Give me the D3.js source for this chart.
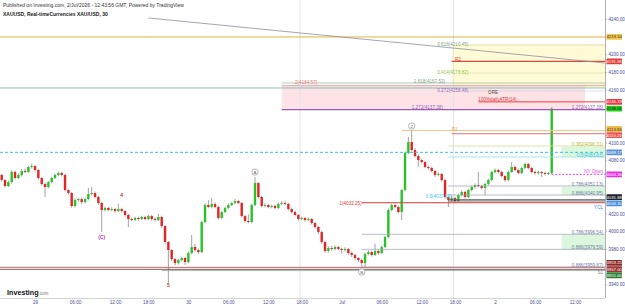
<!DOCTYPE html>
<html><head><meta charset="utf-8">
<script src="https://cdn.jsdelivr.net/npm/d3@7/dist/d3.min.js"></script>
<style>html,body{margin:0;padding:0;background:#fff;overflow:hidden}svg{display:block;font-family:"Liberation Sans",Arial,sans-serif}</style>
</head><body>
<svg id="chart" width="625" height="307"></svg>
<script>
// ---------------- DATA ----------------
const headerLine1 = "Published on Investing.com, 2/Jul/2026 - 12:43:56 GMT, Powered by TradingView";
const headerLine2 = "XAUUSD, Real-timeCurrencies XAU/USD, 30";
const firstBarTime = "2026-06-28T19:00";   // 30-minute bars, daily break 17:00-18:00

const opens = [4063.6,4057.9,4051.1,4055.6,4067.0,4060.2,4063.6,4068.1,4067.0,4072.6,
 4073.7,4069.2,4060.2,4053.4,4050.0,4055.6,4060.2,4063.6,4065.8,4063.6,
 4046.6,4043.2,4028.5,4035.3,4036.4,4033.0,4036.4,4042.1,4043.2,4038.7,
 4031.9,4024.0,4026.3,4024.0,4025.1,4022.9,4025.1,4022.9,4018.4,4013.8,
 4012.7,4015.0,4013.8,4016.1,4013.8,4017.2,4013.8,4012.7,4016.1,4005.9,
 3987.9,3978.8,3968.6,3964.1,3967.5,3969.8,3965.2,3975.4,3982.2,3978.8,
 3976.5,4010.4,4029.6,4027.4,4030.8,4027.4,4015.0,4021.7,4026.3,4029.6,
 4031.9,4034.2,4031.9,4017.2,4011.6,4010.4,4029.6,4054.5,4038.7,4028.5,
 4029.6,4027.4,4028.5,4026.3,4030.8,4031.9,4030.8,4025.1,4021.7,4018.4,
 4013.8,4015.0,4012.7,4013.8,4009.3,4004.8,3999.1,3987.9,3977.7,3981.1,
 3980.0,3982.2,3980.0,3978.8,3980.0,3975.4,3973.2,3969.8,3967.5,3964.1,
 3974.3,3976.5,3973.2,3977.7,3975.4,3982.2,3993.5,4024.0,4029.6,4027.4,
 4021.7,4046.6,4088.4,4100.9,4091.8,4085.0,4080.5,4078.2,4072.6,4071.5,
 4068.1,4063.6,4064.7,4057.9,4038.7,4035.3,4037.6,4034.2,4040.9,4044.3,
 4038.7,4046.6,4050.0,4052.3,4051.1,4048.9,4053.4,4057.9,4067.0,4069.2,
 4067.0,4062.4,4057.9,4067.0,4072.6,4069.2,4065.8,4071.5,4076.0,4071.5,
 4067.0,4065.8,4067.0,4065.8,4064.7,4065.8];
const highs = [4065.0,4059.0,4057.0,4069.0,4068.5,4065.5,4070.5,4071.0,4074.0,4076.5,
 4075.0,4070.5,4061.5,4055.0,4057.0,4061.5,4065.0,4067.5,4067.0,4065.0,
 4048.0,4044.5,4037.0,4038.0,4038.0,4038.0,4049.0,4050.0,4045.0,4040.0,
 4033.0,4028.0,4027.5,4027.0,4026.5,4031.0,4026.5,4024.0,4019.5,4015.5,
 4016.5,4016.5,4017.5,4017.5,4019.0,4018.5,4015.5,4019.5,4017.5,4007.0,
 3989.0,3980.0,3970.0,3969.0,3971.5,3971.0,3977.0,3995.8,3986.0,3980.5,
 4012.0,4031.5,4035.3,4037.6,4032.5,4029.0,4023.0,4028.0,4031.5,4033.5,
 4036.4,4035.5,4033.0,4018.5,4019.0,4031.0,4061.3,4055.5,4040.0,4031.5,
 4031.0,4030.0,4030.0,4032.5,4034.0,4034.5,4032.0,4026.5,4023.0,4019.5,
 4016.5,4016.0,4015.5,4015.0,4010.5,4006.0,4000.5,3989.0,3983.0,3983.5,
 3984.0,3983.5,3981.5,3982.0,3981.0,3977.0,3974.5,3971.0,3969.0,3976.0,
 3978.5,3978.0,3986.0,3979.0,3984.0,3995.0,4026.0,4031.5,4031.0,4029.0,
 4048.0,4090.0,4106.5,4114.4,4094.0,4087.0,4082.0,4079.5,4074.0,4073.0,
 4069.5,4066.5,4066.0,4059.0,4040.0,4040.0,4039.0,4042.5,4046.0,4045.5,
 4048.0,4051.5,4054.0,4067.0,4052.5,4055.0,4059.5,4068.5,4071.0,4070.5,
 4068.5,4063.5,4068.5,4078.2,4074.0,4070.5,4073.0,4077.5,4077.0,4072.5,
 4068.5,4068.5,4068.0,4067.0,4067.0,4140.0];
const lows = [4056.0,4049.5,4049.8,4054.0,4058.5,4059.0,4062.0,4065.5,4066.0,4071.0,
 4067.5,4058.5,4051.5,4038.7,4048.5,4054.0,4059.0,4062.0,4062.0,4045.0,
 4041.5,4026.5,4027.0,4033.5,4031.0,4031.5,4035.0,4040.5,4037.0,4030.0,
 3999.1,4022.5,4022.5,4022.5,4021.0,4021.5,4021.0,4016.5,4004.8,4011.0,
 4011.5,4012.0,4012.5,4012.5,4012.5,4012.0,4011.0,4011.5,4004.0,3986.0,
 3941.5,3966.0,3961.5,3962.5,3966.0,3962.0,3964.0,3974.0,3977.0,3974.5,
 3975.0,4009.0,4026.0,4026.0,4026.0,4013.0,4013.5,4020.5,4025.0,4028.5,
 4030.5,4030.5,4015.5,4010.0,4009.0,4009.0,4028.5,4037.0,4027.0,4027.0,
 4026.0,4026.0,4025.0,4025.0,4029.5,4029.5,4023.5,4020.0,4017.0,4012.0,
 4012.5,4011.0,4011.5,4007.5,4003.0,3997.0,3986.0,3975.5,3976.0,3978.0,
 3978.5,3978.5,3975.0,3977.0,3973.5,3971.0,3967.5,3965.5,3960.0,3958.5,
 3973.0,3971.5,3972.0,3973.5,3974.0,3981.0,3992.0,4022.5,4026.0,4020.0,
 4012.7,4045.0,4087.0,4090.0,4083.5,4073.0,4076.5,4071.0,4069.5,4066.5,
 4061.5,4062.0,4056.0,4037.0,4027.4,4033.5,4032.5,4033.0,4039.5,4037.0,
 4037.5,4045.0,4048.5,4049.5,4047.0,4040.9,4052.0,4056.5,4065.5,4065.5,
 4061.0,4056.0,4056.5,4066.0,4068.0,4064.5,4064.5,4070.0,4070.0,4065.5,
 4064.0,4064.0,4061.3,4063.0,4063.5,4064.5];
const closes = [4057.9,4051.1,4055.6,4067.0,4060.2,4063.6,4068.1,4067.0,4072.6,4073.7,
 4069.2,4060.2,4053.4,4050.0,4055.6,4060.2,4063.6,4065.8,4063.6,4046.6,
 4043.2,4028.5,4035.3,4036.4,4033.0,4036.4,4042.1,4043.2,4038.7,4031.9,
 4024.0,4026.3,4024.0,4025.1,4022.9,4025.1,4022.9,4018.4,4013.8,4012.7,
 4015.0,4013.8,4016.1,4013.8,4017.2,4013.8,4012.7,4016.1,4005.9,3987.9,
 3978.8,3968.6,3964.1,3967.5,3969.8,3965.2,3975.4,3982.2,3978.8,3976.5,
 4010.4,4029.6,4027.4,4030.8,4027.4,4015.0,4021.7,4026.3,4029.6,4031.9,
 4034.2,4031.9,4017.2,4011.6,4010.4,4029.6,4054.5,4038.7,4028.5,4029.6,
 4027.4,4028.5,4026.3,4030.8,4031.9,4030.8,4025.1,4021.7,4018.4,4013.8,
 4015.0,4012.7,4013.8,4009.3,4004.8,3999.1,3987.9,3977.7,3981.1,3980.0,
 3982.2,3980.0,3978.8,3980.0,3975.4,3973.2,3969.8,3967.5,3964.1,3974.3,
 3976.5,3973.2,3977.7,3975.4,3982.2,3993.5,4024.0,4029.6,4027.4,4021.7,
 4046.6,4088.4,4100.9,4091.8,4085.0,4080.5,4078.2,4072.6,4071.5,4068.1,
 4063.6,4064.7,4057.9,4038.7,4035.3,4037.6,4034.2,4040.9,4044.3,4038.7,
 4046.6,4050.0,4052.3,4051.1,4048.9,4053.4,4057.9,4067.0,4069.2,4067.0,
 4062.4,4057.9,4067.0,4072.6,4069.2,4065.8,4071.5,4076.0,4071.5,4067.0,
 4065.8,4067.0,4065.8,4064.7,4065.8,4138.61];

const priceTicks = [3940,3960,3980,4000,4020,4040,4060,4080,4100,4120,4140,4160,4180,4200,4220,4240];
const timeTickTimes = ["2026-06-29T00:00","2026-06-29T06:00","2026-06-29T12:00","2026-06-29T18:00",
 "2026-06-30T00:00","2026-06-30T06:00","2026-06-30T12:00","2026-06-30T18:00",
 "2026-07-01T00:00","2026-07-01T06:00","2026-07-01T12:00","2026-07-01T18:00",
 "2026-07-02T00:00","2026-07-02T06:00","2026-07-02T12:00"];
const timeTickLabels = ["29","06:00","12:00","18:00","30","06:00","12:00","18:00","Jul","06:00","12:00","18:00","2","06:00","12:00"];

// horizontal levels (null start = from left edge)
const levelKeys   = ["gold","teal","cyanDash","brown1","brown2","grayS1","fib618","R2","fib414","ext1618","ext2","fib272","atr","ext1272","R1y","R1r","fib382","fib50","nyOpen","fib786a","fib886a","pivotD","ycl","ext1","fib786b","fib886b","fib886c"];
const levelPrices = [4219.54,4161.90,4089.17,3959.25,3957.00,3955.60,4210.45,4191.86,4178.82,4167.52,4164.57,4158.48,4146.19,4137.38,4113.86,4110.20,4096.31,4083.93,4064.30,4051.13,4040.95,4035.88,4034.30,4032.25,3996.54,3979.59,3959.87];
const levelStarts = [null,null,null,null,null,"2026-06-29T20:00","2026-07-01T20:00","2026-07-01T16:30","2026-07-01T20:00","2026-06-30T14:00","2026-06-30T14:00","2026-07-01T20:00","2026-07-01T21:30","2026-06-30T14:00","2026-07-01T09:00","2026-07-01T16:30","2026-07-01T16:00","2026-07-01T16:00","2026-07-02T08:30","2026-07-01T16:00","2026-07-01T16:00","2026-07-01T16:00","2026-07-01T16:00","2026-07-01T03:00","2026-07-01T03:00","2026-07-01T03:00","2026-07-01T03:00"];

// price-axis tags: which levels carry a tag (+ last price)
const tagKeys = ["gold","R2","atr","last","R1y","R1r","cyanDash","nyOpen","pivotD","ycl","brown1","brown2","grayS1"];

// shaded zones
const zoneKeys   = ["fibYellow","extPink","g1","g2","g3"];
const zoneTop    = [4211.6,4164.1,4095.2,4050.0,3995.8];
const zoneBottom = [4161.9,4137.0,4083.9,4040.95,3978.8];
const zoneStart  = ["2026-07-01T16:30","2026-06-30T14:00","2026-07-02T10:00","2026-07-02T10:00","2026-07-02T10:00"];
const zoneEnd    = [null,"2026-07-02T13:30",null,null,null];

// trend line
const trendTimes  = ["2026-06-29T18:00","2026-07-02T16:30"];
const trendPrices = [4241.0,4190.1];

// session separators
const vLineTimes = ["2026-06-30T18:00","2026-07-01T18:00"];

// drawing labels (null time = right edge)
const annTexts  = ["0.618(4210.45)","R2","0.414(4178.82)","1.618(4167.52)","2(4164.57)","0.272(4158.48)","DRE","100%dailyATR(14)","1.272(4137.38)","1.272(4137.38)","R1","0.382(4096.31)","0.5(4083.93)","NY Open","0.786(4051.13)","0.886(4040.95)","0.5(4037.03)","YCL","1(4032.25)","0.786(3996.54)","0.886(3979.59)","0.886(3959.87)","S1"];
const annTimes  = ["2026-07-01T20:00","2026-07-01T18:00","2026-07-01T20:00","2026-07-01T15:30","2026-06-30T16:00","2026-07-01T20:00","2026-07-01T23:00","2026-07-01T21:30","2026-07-01T10:30",null,"2026-07-01T16:30",null,null,null,null,null,"2026-07-01T16:30",null,"2026-07-01T03:00",null,null,null,null];
const annPrices = [4211.6,4194.6,4179.9,4169.8,4168.6,4159.6,4157.3,4149.4,4140.4,4140.4,4115.5,4098.6,4086.2,4068.1,4053.4,4043.2,4039.8,4027.4,4031.9,3999.1,3982.2,3961.3,3954.0];
const annStyle  = ["fibG","red","fibL","fibG","pink","purple","dark","red","purple","purple","orange","olive","cyan","magenta","slate","slate","cyan","blue","red","slate","slate","slate","gray"];
const annEndAnchor = [true,false,true,true,false,true,false,false,false,true,false,true,true,true,true,true,true,true,true,true,true,true,true];

// wave labels
const waveTexts  = ["4","5","(C)","A","B","2"];
const waveTimes  = ["2026-06-29T13:00","2026-06-29T21:00","2026-06-29T10:00","2026-06-30T10:00","2026-07-01T03:00","2026-07-01T10:30"];
const wavePrices = [4040.9,3939.2,3993.5,4066.9,3953.9,4118.9];
const waveKinds  = ["red","red","magenta","circle","circle","circle"];

// ---------------- STYLES ----------------
const levelStyle = {
 gold:{c:"#e2b53c",w:1}, teal:{c:"#5fb8a6",w:0.8}, cyanDash:{c:"#3cc6de",w:1,d:"3,2"},
 brown1:{c:"#b26a6a",w:1}, brown2:{c:"#7d4545",w:0.9}, grayS1:{c:"#93a893",w:0.8},
 fib618:{c:"#a3aaa3",w:0.7,d:"1,1"}, R2:{c:"#e2463f",w:1.2}, fib414:{c:"#9ccc65",w:0.7,d:"1,1"},
 ext1618:{c:"#9fc0a2",w:0.8}, ext2:{c:"#e38d95",w:0.8}, fib272:{c:"#b9a2dc",w:0.7,d:"1,1"},
 atr:{c:"#f23645",w:1}, ext1272:{c:"#9b59b6",w:1.3}, R1y:{c:"#f2c58a",w:1}, R1r:{c:"#e57373",w:1},
 fib382:{c:"#d9dc95",w:0.8}, fib50:{c:"#92e1ec",w:0.8}, nyOpen:{c:"#e040e0",w:1,d:"2,1.5"},
 fib786a:{c:"#a4a9b6",w:0.8}, fib886a:{c:"#a4a9b6",w:0.8}, pivotD:{c:"#666",w:0.8}, ycl:{c:"#333",w:0.8},
 ext1:{c:"#e53935",w:1}, fib786b:{c:"#a4a9b6",w:0.8}, fib886b:{c:"#a4a9b6",w:0.8}, fib886c:{c:"#a0a0a0",w:0.7,d:"1,1"}
};
const tagStyle = {
 gold:{bg:"#f2c54b",fg:"#333"}, R2:{bg:"#e53935",fg:"#fff"}, atr:{bg:"#f23645",fg:"#fff"},
 last:{bg:"#22d022",fg:"#111"}, R1y:{bg:"#f5b94a",fg:"#333"}, R1r:{bg:"#ef5350",fg:"#fff"},
 cyanDash:{bg:"#5b93d6",fg:"#fff"}, nyOpen:{bg:"#e62ee6",fg:"#fff"}, pivotD:{bg:"#1e222d",fg:"#fff"},
 ycl:{bg:"#4a90d9",fg:"#fff"}, brown1:{bg:"#8e2a2a",fg:"#fff"}, brown2:{bg:"#9b3434",fg:"#fff"}, grayS1:{bg:"#2e7d32",fg:"#fff"}
};
const zoneFill = {fibYellow:"#fffbd6", extPink:"#fde3e5", g1:"#dbf7dd", g2:"#dbf7dd", g3:"#dbf7dd"};
const annColor = {fibG:"#7e9f88", red:"#e53935", fibL:"#8bc34a", pink:"#e57373", purple:"#8e63c4", dark:"#555",
 orange:"#f0a030", olive:"#b7bb3a", cyan:"#3cc6de", magenta:"#e040e0", slate:"#6f7aa8", blue:"#4a7fd0", gray:"#888"};

// ---------------- CHART ----------------
const W=625,H=307, plotR=605, plotB=298;
const svg=d3.select("#chart");
svg.append("rect").attr("width",W).attr("height",H).attr("fill","#fff");

const STEP=30*60000;
const barTimes=[];
{let t=Date.parse(firstBarTime+":00Z");
 for(let i=0;i<220;i++){barTimes.push(t); t+=STEP; const d=new Date(t); if(d.getUTCHours()===17&&d.getUTCMinutes()===0) t+=2*STEP;}}
const barOf = s => barTimes.indexOf(Date.parse(s+":00Z"));

const n=closes.length;
const x=d3.scaleLinear().domain([0,n-1]).range([1.7,551.7]);
const y=d3.scaleLinear().domain([3924.6,4261.3]).range([plotB,0]);
const step = x(1)-x(0);
const xStart = s => s===null ? 0 : x(barOf(s));
const xEnd = s => s===null ? plotR : x(barOf(s));

svg.append("clipPath").attr("id","plot").append("rect").attr("x",0).attr("y",0).attr("width",plotR).attr("height",plotB);
const g=svg.append("g").attr("clip-path","url(#plot)");

// zones
zoneKeys.forEach((k,i)=>{
  g.append("rect").attr("x",xStart(zoneStart[i])).attr("y",y(zoneTop[i]))
   .attr("width",xEnd(zoneEnd[i])-xStart(zoneStart[i])).attr("height",y(zoneBottom[i])-y(zoneTop[i]))
   .attr("fill",zoneFill[k]);
});
// session lines
vLineTimes.forEach(s=>{
  const xx=x(barOf(s))-step/2;
  g.append("line").attr("x1",xx).attr("x2",xx).attr("y1",0).attr("y2",plotB).attr("stroke","#dde3ea").attr("stroke-width",1);
});

// candles
const cg=g.append("g");
d3.range(n).forEach(i=>{
  const up=closes[i]>=opens[i];
  const col=up?"#26c426":"#e32424";
  const cx=x(i);
  cg.append("line").attr("x1",cx).attr("x2",cx).attr("y1",y(highs[i])).attr("y2",y(lows[i])).attr("stroke","#8c8c8c").attr("stroke-width",0.8);
  const top=y(Math.max(opens[i],closes[i])), bot=y(Math.min(opens[i],closes[i]));
  cg.append("rect").attr("x",cx-1.2).attr("width",2.4).attr("y",top).attr("height",Math.max(0.8,bot-top)).attr("fill",col);
});

// levels
levelKeys.forEach((k,i)=>{
  const st=levelStyle[k];
  g.append("line").attr("x1",xStart(levelStarts[i])).attr("x2",plotR)
   .attr("y1",y(levelPrices[i])).attr("y2",y(levelPrices[i]))
   .attr("stroke",st.c).attr("stroke-width",st.w).attr("stroke-dasharray",st.d||null);
});
// trend line
g.append("line").attr("x1",x(barOf(trendTimes[0]))).attr("y1",y(trendPrices[0]))
 .attr("x2",x(barOf(trendTimes[1]))).attr("y2",y(trendPrices[1]))
 .attr("stroke","#8d8fa0").attr("stroke-width",0.8);

// annotations
annTexts.forEach((t,i)=>{
  const ax = annTimes[i]===null ? 603 : x(barOf(annTimes[i]));
  g.append("text").attr("x",ax).attr("y",y(annPrices[i])).attr("dy","0.35em")
   .attr("text-anchor", annEndAnchor[i] ? "end":"start")
   .attr("font-size",4.6).attr("fill",annColor[annStyle[i]]).text(t);
});

// wave labels
waveTexts.forEach((t,i)=>{
  const wx=x(barOf(waveTimes[i])), wy=y(wavePrices[i]);
  if(waveKinds[i]==="circle"){
    g.append("circle").attr("cx",wx).attr("cy",wy).attr("r",3.2).attr("fill","#fff").attr("stroke","#8a8a8a").attr("stroke-width",0.6);
    g.append("text").attr("x",wx).attr("y",wy).attr("dy","0.35em").attr("text-anchor","middle").attr("font-size",4.4).attr("fill","#666").text(t);
  } else {
    g.append("text").attr("x",wx).attr("y",wy).attr("dy","0.35em").attr("text-anchor","middle")
     .attr("font-size",5).attr("font-weight","bold").attr("fill",waveKinds[i]==="red"?"#d32f2f":"#c030c0").text(t);
  }
});

// axes lines
svg.append("line").attr("x1",plotR+0.5).attr("x2",plotR+0.5).attr("y1",0).attr("y2",plotB).attr("stroke","#9a9a9a").attr("stroke-width",0.8);
svg.append("line").attr("x1",0).attr("x2",plotR).attr("y1",plotB+0.5).attr("y2",plotB+0.5).attr("stroke","#c8c8c8").attr("stroke-width",0.8);

// tags positions with collision relaxation
const tags = tagKeys.map(k=>{
  const price = k==="last" ? closes[n-1] : levelPrices[levelKeys.indexOf(k)];
  return {k, price, y:y(price)};
}).sort((a,b)=>a.y-b.y);
const tagH=6.2;
for(let it=0;it<80;it++){
  for(let i=1;i<tags.length;i++){
    const ov=tagH-(tags[i].y-tags[i-1].y);
    if(ov>0){tags[i].y+=ov/2; tags[i-1].y-=ov/2;}
  }
}

// right price axis
const yAxis=d3.axisRight(y).tickValues(priceTicks).tickFormat(d3.format(".2f")).tickSize(2).tickPadding(1.5).tickSizeOuter(0);
const ya=svg.append("g").attr("transform",`translate(${plotR},0)`).call(yAxis);
ya.select(".domain").remove();
ya.selectAll(".tick line").attr("stroke","#9a9a9a").attr("stroke-width",0.6);
ya.selectAll(".tick text").attr("font-size",4.5).attr("fill","#4a4e96").attr("font-family","Liberation Sans, Arial, sans-serif");
ya.selectAll(".tick").filter(d=>tags.some(t=>Math.abs(t.y-y(d))<5.5)).remove();

// tags
tags.forEach(t=>{
  const st=tagStyle[t.k];
  svg.append("rect").attr("x",plotR+1.5).attr("y",t.y-tagH/2+0.2).attr("width",15.5).attr("height",tagH-0.4).attr("rx",0.6).attr("fill",st.bg);
  svg.append("text").attr("x",plotR+9.2).attr("y",t.y).attr("dy","0.35em").attr("text-anchor","middle").attr("font-size",4.3).attr("fill",st.fg).text(d3.format(".2f")(t.price));
});

// bottom time axis
const tickBars = timeTickTimes.map(barOf);
const xAxis=d3.axisBottom(x).tickValues(tickBars).tickFormat((d,i)=>timeTickLabels[i]).tickSize(0).tickPadding(2.5);
const xa=svg.append("g").attr("transform",`translate(0,${plotB})`).call(xAxis);
xa.select(".domain").remove();
xa.selectAll(".tick text").attr("font-size",4.6).attr("fill","#4a4e96").attr("font-family","Liberation Sans, Arial, sans-serif");

// header
svg.append("text").attr("x",3).attr("y",7.3).attr("font-size",5).attr("fill","#333").text(headerLine1);
svg.append("text").attr("x",3).attr("y",15.5).attr("font-size",5).attr("font-weight","bold").attr("fill","#222").text(headerLine2);

// Investing.com logo
const logo=svg.append("text").attr("x",7).attr("y",294.5).attr("font-size",7.2).attr("font-weight","bold").attr("fill","#111");
logo.append("tspan").text("Investing");
logo.append("tspan").attr("font-size",4.5).attr("font-weight","normal").attr("fill","#777").text(".com");
</script>
</body></html>
